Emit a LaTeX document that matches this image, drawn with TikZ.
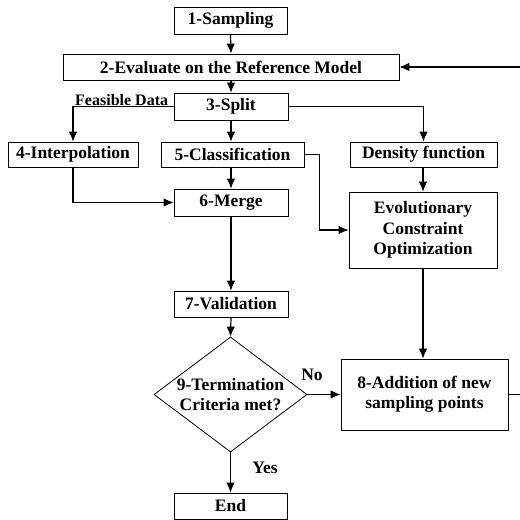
\documentclass[tikz,border=0pt]{standalone}
\usepackage{fontspec}
\setmainfont{Liberation Serif}
\usetikzlibrary{arrows.meta,shapes.geometric}
\begin{document}
\begin{tikzpicture}[x=1pt,y=-1pt,
  every node/.style={font=\fontsize{17.5}{20.5}\selectfont\bfseries},
  box/.style={draw, line width=0.8pt, inner sep=0pt, align=center},
  dia/.style={draw, line width=0.8pt, diamond, inner sep=0pt, align=center},
  lab/.style={inner sep=0pt},
  conn/.style={line width=1.2pt, -{Latex[length=10pt,width=8.5pt]}}
]
\useasboundingbox (0,0) rectangle (520,520);
\node[box, minimum width=113pt, minimum height=27pt] (s1) at (230.5,20.5) {1-Sampling};
\node[box, minimum width=336pt, minimum height=26pt] (s2) at (231,67) {2-Evaluate on the Reference Model};
\node[box, minimum width=114pt, minimum height=27pt] (s3) at (231,106.5) {3-Split};
\node[box, minimum width=130pt, minimum height=25pt] (s4) at (73,154.5) {4-Interpolation};
\node[box, minimum width=143pt, minimum height=25pt] (s5) at (232.5,154.5) {5-Classification};
\node[box, minimum width=147pt, minimum height=25pt] (dens) at (423.5,154.5) {Density function};
\node[box, minimum width=114pt, minimum height=27pt] (s6) at (231,202.5) {6-Merge};
\node[box, minimum width=148pt, minimum height=76pt] (evo) at (423,230) {Evolutionary\\Constraint\\Optimization};
\node[box, minimum width=114pt, minimum height=26pt] (s7) at (231,304) {7-Validation};
\node[dia, minimum width=153pt, minimum height=115pt] (s9) at (230.5,394.5) {};
\node[lab, align=center] (s9t) at (230.5,394.5) {9-Termination\\Criteria met?};
\node[box, minimum width=167pt, minimum height=71pt] (s8) at (424.5,394.5) {8-Addition of new\\sampling points};
\node[box, minimum width=113pt, minimum height=26pt] (end) at (230.5,506) {End};

\draw[conn] (s1.south) -- (s2.north);
\draw[conn] (s2.south) -- (s3.north);
\draw[conn] (s3.west) -| (s4.north);
\node[lab, anchor=base west, font=\fontsize{16}{18}\selectfont\bfseries] (fd) at (75,105) {Feasible Data};
\draw[conn] (s3.south) -- (s3.south |- s5.north);
\draw[conn] (s3.east) -| (dens.north);
\draw[conn] (s5.east) -- ++(15,0) |- (evo.west);
\draw[conn] (s4.south) |- (s6.west);
\draw[conn] (s5.south -| s6.north) -- (s6.north);
\draw[conn] (dens.south -| evo.north) -- (evo.north);
\draw[conn] (s6.south) -- (s7.north);
\draw[conn] (s7.south) -- (s9.north);
\draw[conn] (evo.south) -- (evo.south |- s8.north);
\draw[conn] (s9.east) -- (s8.west);
\node[lab] (no) at (312,375) {No};
\draw[conn] (s9.south) -- (end.north);
\node[lab] (yes) at (265,468) {Yes};
\draw[conn] (s8.east) -- ++(16,0) |- (s2.east);
\end{tikzpicture}
\end{document}
